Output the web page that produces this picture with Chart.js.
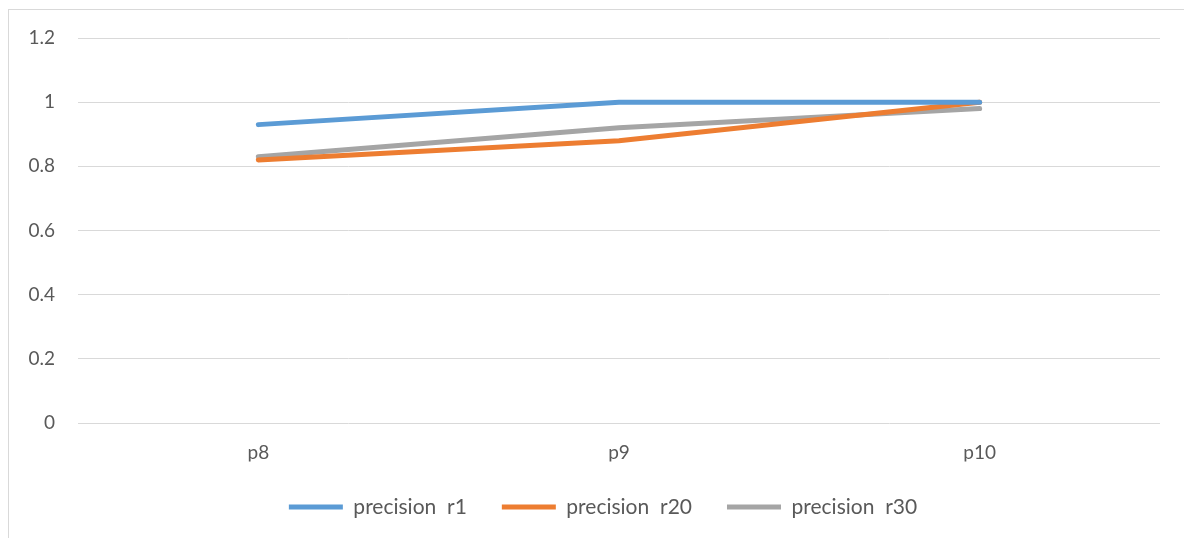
<!DOCTYPE html>
<html lang="en">
<head>
  <meta charset="UTF-8">
  <title>precision</title>
  <script src="https://cdn.jsdelivr.net/npm/chart.js"></script>
  <style>
    body { margin: 0; background: #fff; }
    .frame { position: absolute; left: 8px; top: 9px; width: 1200px; height: 560px; border: 1px solid #d9d9d9; }
    .wrap { position: absolute; left: 0; top: 0; width: 1184px; height: 538px; }
  </style>
</head>
<body>
  <div class="frame"></div>
  <div class="wrap"><canvas id="chart"></canvas></div>

  <script>
    const categories = ['p8', 'p9', 'p10'];
    const precisionR1 = [0.93, 1, 1];
    const precisionR20 = [0.82, 0.88, 1];
    const precisionR30 = [0.83, 0.92, 0.98];
    const seriesNames = ['precision  r1', 'precision  r20', 'precision  r30'];

    const textColor = '#595959';
    const fontFamily = 'Lato, "Open Sans", sans-serif';

    function line(label, data, color) {
      return {
        label: label,
        data: data,
        borderColor: color,
        backgroundColor: color,
        borderWidth: 5,
        pointRadius: 0,
        pointHoverRadius: 0,
        tension: 0,
        borderCapStyle: 'round',
        pointStyle: 'line'
      };
    }

    // legend in the original sits a bit right of the chart centre
    const shiftLegend = {
      id: 'shiftLegend',
      afterLayout(chart) {
        chart.legend.left += 46;
      }
    };

    new Chart(document.getElementById('chart'), {
      type: 'line',
      data: {
        labels: categories,
        datasets: [
          line(seriesNames[0], precisionR1, '#5b9bd5'),
          line(seriesNames[1], precisionR20, '#ed7d31'),
          line(seriesNames[2], precisionR30, '#a5a5a5')
        ]
      },
      plugins: [shiftLegend],
      options: {
        responsive: true,
        maintainAspectRatio: false,
        animation: false,
        layout: { padding: { top: 38, right: 24, bottom: 10.5, left: 0 } },
        plugins: {
          tooltip: { enabled: false },
          legend: {
            position: 'bottom',
            labels: {
              usePointStyle: true,
              pointStyleWidth: 54,
              boxHeight: 6,
              padding: 35,
              color: textColor,
              font: { family: fontFamily, size: 21 }
            }
          }
        },
        scales: {
          x: {
            offset: true,
            grid: { display: false, drawTicks: false },
            border: { display: false },
            ticks: { color: textColor, padding: 18, font: { family: fontFamily, size: 19 } },
            afterFit: scale => { scale.height = 38.5; }
          },
          y: {
            min: 0,
            max: 1.2,
            grid: { color: '#d9d9d9', drawTicks: false },
            border: { display: false },
            ticks: {
              stepSize: 0.2,
              color: textColor,
              padding: 23,
              font: { family: fontFamily, size: 19 },
              callback: v => String(Math.round(v * 10) / 10)
            },
            afterFit: scale => { scale.width = 78; }
          }
        }
      }
    });
  </script>
</body>
</html>
